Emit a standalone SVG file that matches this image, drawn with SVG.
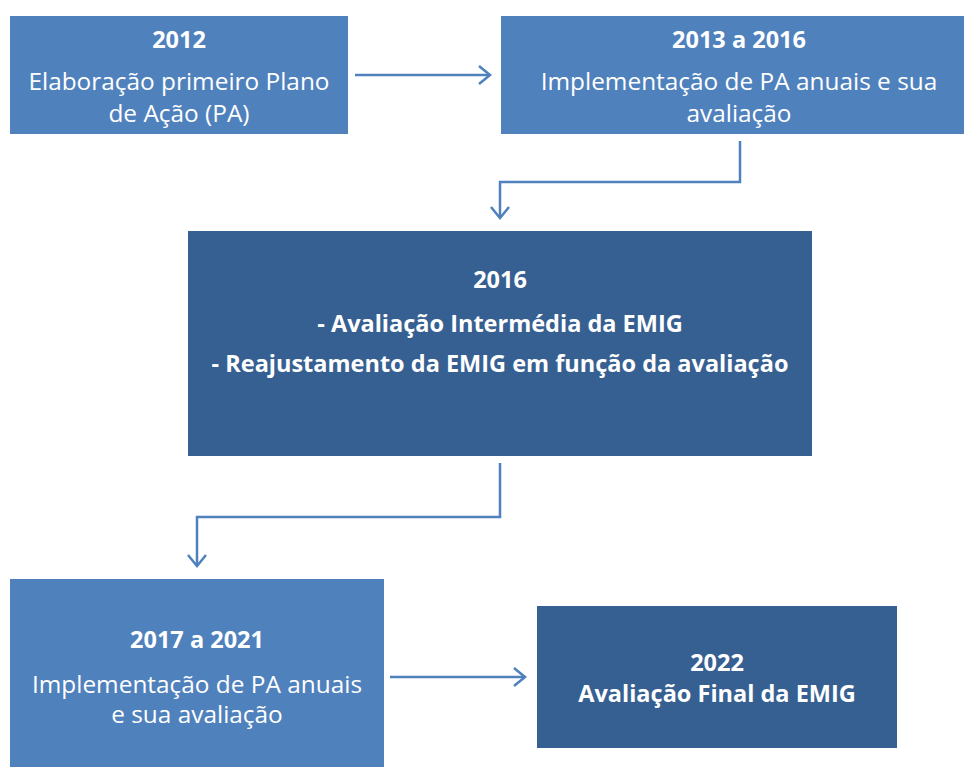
<svg xmlns="http://www.w3.org/2000/svg" width="964" height="767" viewBox="0 0 964 767">
<defs>
<style>
.l{fill:#4F81BD}
.d{fill:#376092}
text{font-family:"Open Sans","Noto Sans",sans-serif;fill:#fff;text-anchor:middle}
.b{font-weight:bold;font-size:23.5px}
.r{font-size:24.4px}
.c{fill:none;stroke:#4F81BD;stroke-width:2.5}
</style>
<marker id="ah" markerWidth="14" markerHeight="20" refX="12" refY="10" orient="auto" markerUnits="userSpaceOnUse">
<path d="M1,1 L12,10 L1,19" fill="none" stroke="#4F81BD" stroke-width="2.5"/>
</marker>
</defs>
<rect width="964" height="767" fill="#fff"/>
<g id="n2012">
<rect class="l" x="10" y="16" width="338" height="118"/>
<text class="b" x="179" y="48">2012</text>
<text class="r" x="179" y="90">Elaboração primeiro Plano</text>
<text class="r" x="179" y="122">de Ação (PA)</text>
</g>
<g id="n2013">
<rect class="l" x="501" y="16" width="463" height="118"/>
<text class="b" x="739" y="48">2013 a 2016</text>
<text class="r" x="739" y="90">Implementação de PA anuais e sua</text>
<text class="r" x="739" y="122">avaliação</text>
</g>
<g id="n2016">
<rect class="d" x="188" y="231" width="624" height="225"/>
<text class="b" x="500" y="288">2016</text>
<text class="b" x="500" y="332">- Avaliação Intermédia da EMIG</text>
<text class="b" x="500" y="372">- Reajustamento da EMIG em função da avaliação</text>
</g>
<g id="n2017">
<rect class="l" x="10" y="579" width="374" height="188"/>
<text class="b" x="197" y="648">2017 a 2021</text>
<text class="r" x="197" y="693">Implementação de PA anuais</text>
<text class="r" x="197" y="723">e sua avaliação</text>
</g>
<g id="n2022">
<rect class="d" x="537" y="606" width="360" height="142"/>
<text class="b" x="717" y="671">2022</text>
<text class="b" x="717" y="702">Avaliação Final da EMIG</text>
</g>
<g id="connectors">
<path class="c" d="M355,75 H490" marker-end="url(#ah)"/>
<path class="c" d="M740,141 V182 H500 V218" marker-end="url(#ah)"/>
<path class="c" d="M500,463 V517 H197 V566" marker-end="url(#ah)"/>
<path class="c" d="M390,677 H525" marker-end="url(#ah)"/>
</g>
</svg>
